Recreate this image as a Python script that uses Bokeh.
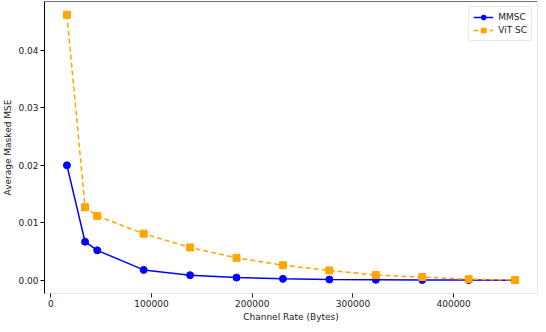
from bokeh.plotting import figure
from bokeh.models import Range1d, FixedTicker, CustomJSTickFormatter, Span, Legend, LegendItem
from bokeh.embed import file_html
from bokeh.resources import INLINE

# Data
channel_rate = [16000, 34000, 46100, 92200, 138300, 184400, 230500, 276600, 322700, 368800, 414900, 461000]
mmsc = [0.0200, 0.0067, 0.0052, 0.0018, 0.00088, 0.00046, 0.00024, 0.00013, 0.00008, 0.00003, 0.00002, 0.00001]
vit_sc = [0.0462, 0.0127, 0.0112, 0.0081, 0.0057, 0.0039, 0.0026, 0.0017, 0.0009, 0.00055, 0.00018, 0.00003]
x_ticks = [0, 100000, 200000, 300000, 400000]
y_ticks = [0.0, 0.01, 0.02, 0.03, 0.04]

FONT = "DejaVu Sans"

p = figure(width=538, height=324, output_backend="svg", toolbar_location=None,
           x_range=Range1d(-6250, 483250), y_range=Range1d(-0.00231, 0.04851),
           min_border_left=0, min_border_right=1, min_border_top=1, min_border_bottom=0)
p.background_fill_color = "white"
p.border_fill_color = "white"
p.outline_line_color = "#e6e6e6"
p.xgrid.visible = False
p.ygrid.visible = False

l1 = p.line(channel_rate, mmsc, line_color="#0000ff", line_width=1.5)
s1 = p.scatter(channel_rate, mmsc, marker="circle", size=7, fill_color="#0000ff", line_color="#0000ff")
l2 = p.line(channel_rate, vit_sc, line_color="#ffa500", line_width=1.5, line_dash="5 3")
s2 = p.scatter(channel_rate, vit_sc, marker="square", size=7, fill_color="#ffa500", line_color="#ffa500")

legend = Legend(items=[LegendItem(label="MMSC", renderers=[l1, s1]),
                       LegendItem(label="ViT SC", renderers=[l2, s2])],
                location="top_right")
legend.label_text_font = FONT
legend.label_text_font_size = "9px"
legend.label_text_color = "#222222"
legend.glyph_height = 12
legend.glyph_width = 20
legend.label_height = 12
legend.spacing = 1
legend.padding = 4
legend.margin = 5
legend.border_line_color = "#d0d0d0"
legend.border_radius = 3
legend.background_fill_alpha = 0.8
p.add_layout(legend)

top = Span(location=0.04851, dimension="width", line_color="black", line_width=1)
p.add_layout(top)

for ax in (p.xaxis[0], p.yaxis[0]):
    ax.major_label_text_font = FONT
    ax.major_label_text_font_size = "9px"
    ax.major_label_text_color = "#222222"
    ax.axis_label_text_font = FONT
    ax.axis_label_text_font_size = "9px"
    ax.axis_label_text_font_style = "normal"
    ax.axis_label_text_color = "#222222"
    ax.minor_tick_line_color = None
    ax.major_tick_out = 4
    ax.major_tick_in = 0
    ax.axis_label_standoff = 2
    ax.major_label_standoff = 2

p.xaxis.ticker = FixedTicker(ticks=x_ticks)
p.yaxis.ticker = FixedTicker(ticks=y_ticks)
p.xaxis.formatter = CustomJSTickFormatter(code="return tick.toFixed(0);")
p.yaxis.formatter = CustomJSTickFormatter(code="return tick.toFixed(2);")
p.xaxis.axis_label = "Channel Rate (Bytes)"
p.yaxis.axis_label = "Average Masked MSE"
p.xaxis.axis_line_color = "#e6e6e6"
p.xaxis.major_tick_line_color = "#222222"
p.yaxis.axis_line_color = "black"

open("out.html", "w").write(file_html(p, INLINE))
